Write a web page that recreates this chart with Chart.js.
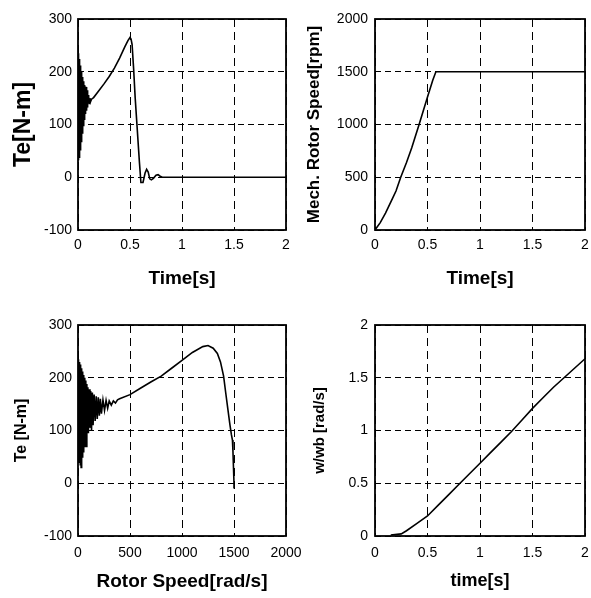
<!DOCTYPE html>
<html>
<head>
<meta charset="utf-8">
<script src="https://cdn.jsdelivr.net/npm/chart.js@4.4.0/dist/chart.umd.min.js"></script>
<style>
html, body { margin: 0; padding: 0; background: #fff; }
body { position: relative; width: 591px; height: 598px; overflow: hidden; }
canvas { position: absolute; }
</style>
</head>
<body>
<canvas id="teTimeChart" width="320" height="300" style="left:0;top:0"></canvas>
<canvas id="speedChart" width="301" height="300" style="left:290px;top:0"></canvas>
<canvas id="torqueSpeedChart" width="320" height="298" style="left:0;top:300px"></canvas>
<canvas id="ratioChart" width="301" height="298" style="left:290px;top:300px"></canvas>
<script>
// electromagnetic torque against time
var teTime = [0, 0.0025, 0.005, 0.0075, 0.01, 0.0125, 0.015, 0.0175, 0.02, 0.0225, 0.025, 0.0275,
    0.03, 0.0325, 0.035, 0.0375, 0.04, 0.0425, 0.045, 0.0475, 0.05, 0.0525, 0.055, 0.0575, 0.06,
    0.0625, 0.065, 0.0675, 0.07, 0.0725, 0.075, 0.0775, 0.08, 0.0825, 0.085, 0.0875, 0.09, 0.0925,
    0.095, 0.0975, 0.1, 0.105, 0.11, 0.115, 0.12, 0.13, 0.15, 0.2, 0.25, 0.3, 0.35, 0.4, 0.45, 0.48,
    0.5, 0.51, 0.52, 0.535, 0.55, 0.57, 0.59, 0.605, 0.625, 0.645, 0.66, 0.675, 0.69, 0.705, 0.725,
    0.75, 0.77, 0.79, 0.81, 2];
var teTorque = [40, 235, 32, 230, 38, 224, 45, 218, 52, 212, 60, 206, 68, 200, 76, 195, 84, 190,
    92, 186, 98, 182, 104, 178, 110, 175, 115, 172, 120, 170, 124, 168, 127, 171, 126, 165, 132,
    160, 136, 156, 140, 152, 140, 150, 143, 148, 151, 164, 177, 191, 207, 226, 247, 259, 265, 262,
    252, 205, 150, 90, 30, -10, -10, 8, 15, 10, -3, -5, -2, 4, 5, 2, 0, 0];

// mechanical rotor speed against time
var speedTime = [0, 0.05, 0.1, 0.167, 0.2, 0.245, 0.3, 0.35, 0.42, 0.5, 0.55, 0.58, 2];
var speedRpm = [0, 70, 160, 300, 370, 500, 640, 780, 1000, 1260, 1420, 1500, 1500];

// torque against rotor speed
var tsSpeed = [0, 5, 12, 15, 22, 25, 30, 35, 40, 45, 50, 55, 60, 65, 70, 75, 80, 85, 90, 95, 100,
    108, 115, 122, 130, 138, 145, 155, 165, 175, 185, 195, 205, 215, 225, 240, 255, 270, 285, 300,
    320, 340, 360, 380, 400, 500, 600, 700, 800, 900, 1000, 1100, 1200, 1250, 1300, 1340, 1370,
    1400, 1420, 1440, 1460, 1475, 1485, 1490, 1495, 1500, 1500];
var tsTorque = [40, 235, 40, 230, 35, 225, 30, 218, 50, 212, 60, 205, 70, 200, 85, 195, 70, 188,
    100, 182, 95, 178, 105, 175, 100, 172, 110, 168, 118, 165, 122, 163, 128, 160, 132, 158, 138,
    157, 142, 156, 148, 156, 152, 158, 160, 168, 180, 192, 203, 218, 233, 248, 259, 261, 256, 246,
    230, 203, 172, 142, 112, 92, 82, 60, 30, 0, -10];

// normalised speed against time
var ratioTime = [0.15, 0.25, 0.3, 0.4, 0.5, 0.6, 0.7, 0.8, 0.9, 1, 1.1, 1.2, 1.3, 1.4, 1.5, 1.6,
    1.7, 1.8, 1.9, 2];
var ratioValue = [0.01, 0.02, 0.05, 0.12, 0.19, 0.29, 0.39, 0.49, 0.59, 0.69, 0.79, 0.89, 0.99,
    1.1, 1.21, 1.31, 1.41, 1.5, 1.59, 1.68];

var timeTicks = [0, 0.5, 1, 1.5, 2];
var torqueTicks = [-100, 0, 100, 200, 300];
var rpmTicks = [0, 500, 1000, 1500, 2000];
var speedTicks = [0, 500, 1000, 1500, 2000];
var ratioTicks = [0, 0.5, 1, 1.5, 2];

var sans = "'Liberation Sans', Arial, sans-serif";
var tickFont = { family: sans, size: 14 };

// solid frame round the plot area, like a boxed axes
var frame = {
    id: 'frame',
    afterDatasetsDraw: function (chart) {
        var a = chart.chartArea, ctx = chart.ctx;
        ctx.save();
        ctx.strokeStyle = '#000';
        ctx.lineWidth = 1.8;
        ctx.strokeRect(a.left, a.top, a.right - a.left, a.bottom - a.top);
        ctx.restore();
    }
};

function toPoints(xs, ys) {
    return xs.map(function (x, i) { return { x: x, y: ys[i] }; });
}

function label(text, size, top, bottom) {
    return {
        display: true, text: text, color: '#000',
        font: { family: sans, size: size, weight: 'bold' },
        padding: { top: top, bottom: bottom }
    };
}

function axis(ticks, dash, size, tickPad, title) {
    return {
        type: 'linear',
        min: ticks[0],
        max: ticks[ticks.length - 1],
        afterBuildTicks: function (s) { s.ticks = ticks.map(function (v) { return { value: v }; }); },
        afterFit: function (s) {
            if (s.isHorizontal()) { s.height = size; } else { s.width = size; }
            s.paddingLeft = s.paddingRight = s.paddingTop = s.paddingBottom = 0;
        },
        grid: { color: '#000', lineWidth: 1, drawTicks: false },
        border: { display: false, dash: dash },
        ticks: {
            color: '#000', font: tickFont, padding: tickPad, maxRotation: 0, autoSkip: false,
            callback: function (v) { return String(v); }
        },
        title: title
    };
}

function panel(id, xs, ys, x, y, pad) {
    return new Chart(document.getElementById(id), {
        type: 'line',
        data: {
            datasets: [{
                data: toPoints(xs, ys),
                borderColor: '#000',
                borderWidth: 1.6,
                pointRadius: 0,
                tension: 0,
                fill: false
            }]
        },
        options: {
            responsive: false,
            animation: false,
            layout: { padding: pad },
            plugins: { legend: { display: false }, tooltip: { enabled: false } },
            scales: { x: x, y: y }
        },
        plugins: [frame]
    });
}

panel('teTimeChart', teTime, teTorque,
    axis(timeTicks, [8, 5], 70, 7, label('Time[s]', 19, 0, 10)),
    axis(torqueTicks, [6, 4], 78, 6, label('Te[N-m]', 23, 10, 0)),
    { top: 19, right: 34, left: 0, bottom: 0 });

panel('speedChart', speedTime, speedRpm,
    axis(timeTicks, [8, 5], 70, 7, label('Time[s]', 19, 0, 10)),
    axis(rpmTicks, [6, 4], 85, 7, label('Mech. Rotor Speed[rpm]', 17, 14, 0)),
    { top: 19, right: 6, left: 0, bottom: 0 });

panel('torqueSpeedChart', tsSpeed, tsTorque,
    axis(speedTicks, [8, 5], 62, 9, label('Rotor Speed[rad/s]', 19, 0, 5)),
    axis(torqueTicks, [6, 4], 78, 6, label('Te [N-m]', 16, 12, 0)),
    { top: 25, right: 34, left: 0, bottom: 0 });

panel('ratioChart', ratioTime, ratioValue,
    axis(timeTicks, [8, 5], 62, 9, label('time[s]', 18, 0, 6)),
    axis(ratioTicks, [6, 4], 85, 7, label('w/wb [rad/s]', 15, 21, 0)),
    { top: 25, right: 6, left: 0, bottom: 0 });
</script>
</body>
</html>
